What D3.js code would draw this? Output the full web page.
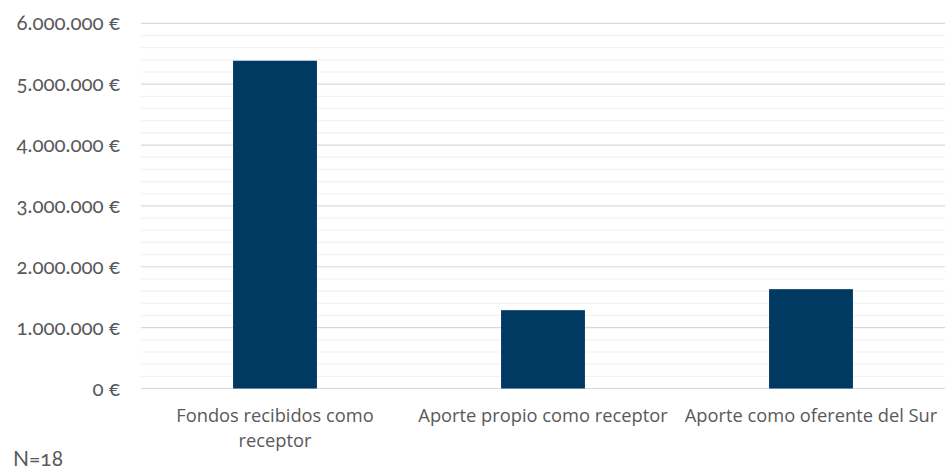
<!DOCTYPE html>
<html><head><meta charset="utf-8">
<script src="https://cdn.jsdelivr.net/npm/d3@7"></script>
<style>
html,body{margin:0;padding:0;background:#fff;}
svg{display:block;}
.ylab{font-family:Lato,"Open Sans",sans-serif;font-size:20.5px;fill:#595959;font-variant-numeric:oldstyle-nums;font-feature-settings:"onum" 1;}
.xlab{font-family:"Open Sans","Noto Sans",sans-serif;font-size:18.3px;fill:#595959;}
.note{font-family:Lato,"Open Sans",sans-serif;font-size:21px;fill:#595959;font-variant-numeric:oldstyle-nums;font-feature-settings:"onum" 1;}
</style></head><body>
<script>
const categories = [["Fondos recibidos como","receptor"],["Aporte propio como receptor"],["Aporte como oferente del Sur"]];
const values = [5385000, 1287000, 1632000];
const majorTicks = [0,1000000,2000000,3000000,4000000,5000000,6000000];
const minorStep = 200000;
const note = "N=18";

const W=945,H=469;
const svg=d3.select("body").append("svg").attr("width",W).attr("height",H);
const x0=141,x1=945,yTop=23.3,yBot=388.5;
const y=d3.scaleLinear().domain([0,6000000]).range([yBot,yTop]);
const x=d3.scaleBand().domain(d3.range(categories.length)).range([x0,x1]).paddingInner(0.687).paddingOuter(0.3435);

const minor=d3.range(0,6000000+1,minorStep).filter(v=>!majorTicks.includes(v));
svg.append("g").selectAll("line").data(minor).join("line")
  .attr("x1",x0).attr("x2",x1).attr("y1",d=>y(d)).attr("y2",d=>y(d))
  .attr("stroke","#f2f2f2").attr("stroke-width",1.2);
svg.append("g").selectAll("line").data(majorTicks).join("line")
  .attr("x1",x0).attr("x2",x1).attr("y1",d=>y(d)).attr("y2",d=>y(d))
  .attr("stroke","#d9d9d9").attr("stroke-width",1.2);

const fmt=v=>d3.format(",")(v).replace(/,/g,".")+" €";
svg.append("g").selectAll("text").data(majorTicks).join("text")
  .attr("class","ylab").attr("x",120).attr("y",d=>y(d)).attr("dy","0.35em")
  .attr("text-anchor","end").text(fmt);

svg.append("g").selectAll("rect").data(values).join("rect")
  .attr("x",(d,i)=>x(i)).attr("width",x.bandwidth())
  .attr("y",d=>y(d)).attr("height",d=>y(0)-y(d)).attr("fill","#003a63");

const lab=svg.append("g").selectAll("text").data(categories).join("text")
  .attr("class","xlab").attr("text-anchor","middle")
  .attr("x",(d,i)=>x(i)+x.bandwidth()/2).attr("y",422);
lab.selectAll("tspan").data(d=>d).join("tspan")
  .attr("x",function(){return d3.select(this.parentNode).attr("x");})
  .attr("dy",(d,i)=>i?25:0).text(d=>d);

svg.append("text").attr("class","note").attr("x",13).attr("y",466).text(note);
</script>
</body></html>
